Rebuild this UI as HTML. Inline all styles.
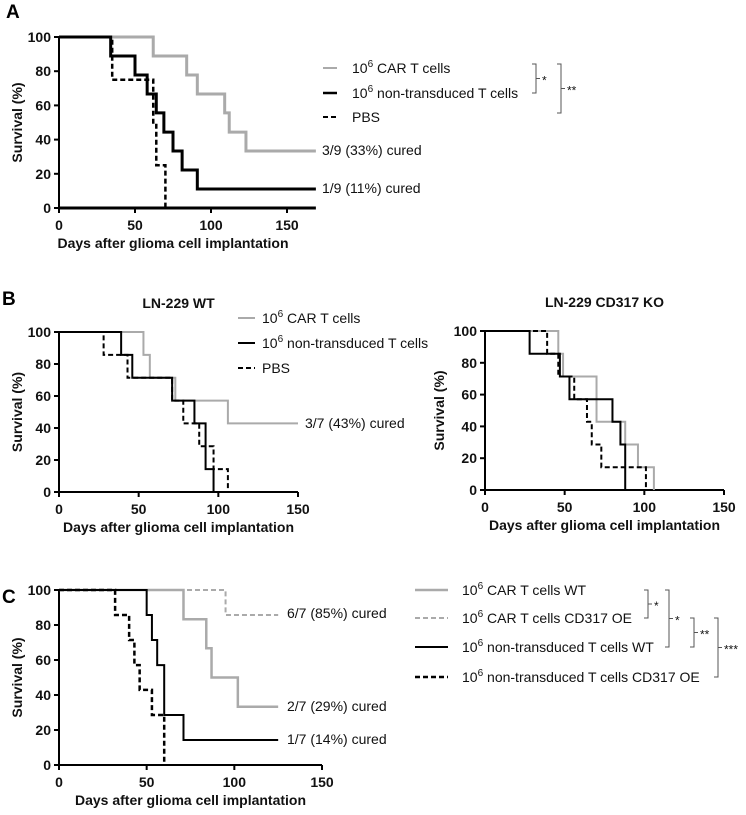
<!DOCTYPE html>
<html><head><meta charset="utf-8"><style>
body{margin:0;background:#fff}
svg{font-family:"Liberation Sans",Arial,sans-serif}
.t{font-size:14px;fill:#111}
.b{font-weight:bold}
</style></head><body>
<svg id="s" width="746" height="810" viewBox="0 0 746 810">
<text x="6" y="18" class="b" font-size="19">A</text>
<text x="2" y="305" class="b" font-size="19">B</text>
<text x="2" y="603" class="b" font-size="19">C</text>
</svg>
<script>
// Panel A data (days, survival %)
const aCarX=[0,62,84,91,109,112,123,169];
const aCarY=[100,88.9,77.8,66.7,55.6,44.4,33.3,33.3];
const aNonX=[0,34,50,58,64,69,75,81,91,169];
const aNonY=[100,88.9,77.8,66.7,55.6,44.4,33.3,22.2,11.1,11.1];
const aPbsX=[0,35,62,64,70];
const aPbsY=[100,75,50,25,0];
// Panel B WT
const bwCarX=[0,53,57,73,106,150];
const bwCarY=[100,85.7,71.4,57.1,42.9,42.9];
const bwNonX=[0,39,46,71,85,92,97];
const bwNonY=[100,85.7,71.4,57.1,42.9,14.3,0];
const bwPbsX=[0,28,43,71,78,88,97,106];
const bwPbsY=[100,85.7,71.4,57.1,42.9,28.6,14.3,0];
// Panel B KO
const bkCarX=[0,46,49,70,88,96,106];
const bkCarY=[100,85.7,71.4,42.9,28.6,14.3,0];
const bkNonX=[0,28,47,53,80,85,88];
const bkNonY=[100,85.7,71.4,57.1,42.9,28.6,0];
const bkPbsX=[0,39,46,56,64,67,73,101];
const bkPbsY=[100,85.7,71.4,57.1,42.9,28.6,14.3,0];
// Panel C
const cCarWtX=[0,71,84,87,102,125];
const cCarWtY=[100,83.3,66.7,50,33.3,33.3];
const cCarOeX=[0,95,125];
const cCarOeY=[100,85.7,85.7];
const cNonWtX=[0,50,53,56,60,71,125];
const cNonWtY=[100,85.7,71.4,57.1,28.6,14.3,14.3];
const cNonOeX=[0,32,40,43,46,53,60];
const cNonOeY=[100,85.7,71.4,57.1,42.9,28.6,0];
const xTicks=[0,50,100,150];
const yTicks=[0,20,40,60,80,100];

const S=document.getElementById('s');
const NS='http://www.w3.org/2000/svg';
function mk(tag,at,txt){const e=document.createElementNS(NS,tag);for(const k in at)e.setAttribute(k,at[k]);if(txt!==undefined)e.textContent=txt;S.appendChild(e);return e;}

function panel(p){
  const sx=d=>p.x0+(d-0)*(p.x150-p.x0)/150;
  const sy=v=>p.y0+(100-v)*(p.y100-p.y0)/100*-1+ (p.y100-p.y0)*0; // placeholder
  const Y=v=>p.y0-(v/100)*(p.y0-p.y100);
  const g=mk('g',{});
  
  
  // axes
  let ax=mk('line',{x1:p.x0,y1:p.y0,x2:sx(p.xmax),y2:p.y0,stroke:'#000','stroke-width':p.aw});
  
  
  let ay=mk('line',{x1:p.x0,y1:p.y0+1,x2:p.x0,y2:p.y100,stroke:'#000','stroke-width':2});
  
  
  xTicks.forEach(t=>{
    mk('line',{x1:sx(t),y1:p.y0,x2:sx(t),y2:p.y0+5,stroke:'#000','stroke-width':2});
    let tx=mk('text',{x:sx(t),y:p.y0+22,'text-anchor':'middle',class:'t b'},t);
    
    
  });
  yTicks.forEach(t=>{
    mk('line',{x1:p.x0-5,y1:Y(t),x2:p.x0,y2:Y(t),stroke:'#000','stroke-width':2});
    let ty=mk('text',{x:p.x0-8,y:Y(t)+5,'text-anchor':'end',class:'t b'},t);
    
    
  });
  let xt=mk('text',{x:(p.x0+sx(150))/2,y:p.y0+40,'text-anchor':'middle',class:'t b'},'Days after glioma cell implantation');
  
  
  let yc=(p.y0+p.y100)/2;
  let yt=mk('text',{x:p.ytx,y:yc,'text-anchor':'middle',class:'t b',transform:`rotate(-90 ${p.ytx} ${yc})`},'Survival (%)');
  
  
  if(p.title){let tt=mk('text',{x:(p.x0+sx(150))/2,y:p.y100-24,'text-anchor':'middle',class:'t b'},p.title);
    
    }
  p.series.forEach(s=>{
    let d=`M${sx(s.x[0])},${Y(s.y[0])}`;
    for(let i=1;i<s.x.length;i++){d+=`H${sx(s.x[i])}V${Y(s.y[i])}`;}
    let a={d:d,fill:'none',stroke:s.c,'stroke-width':s.w};
    if(s.dash)a['stroke-dasharray']='5,3';
    let e=mk('path',a);
    
    
  });
}
const G='#aaa';
panel({name:'panel-a',x0:59,x150:287,xmax:169,y0:208,y100:37,aw:3,ytx:22,series:[
 {name:'line-car-t',x:aCarX,y:aCarY,c:G,w:3},
 {name:'line-non-transduced',x:aNonX,y:aNonY,c:'#000',w:3},
 {name:'line-pbs',x:aPbsX,y:aPbsY,c:'#000',w:2.5,dash:1}]});
panel({name:'panel-b-wt',x0:59,x150:298,xmax:150,y0:492,y100:332,aw:2,ytx:22,title:'LN-229 WT',series:[
 {name:'line-car-t',x:bwCarX,y:bwCarY,c:G,w:2},
 {name:'line-non-transduced',x:bwNonX,y:bwNonY,c:'#000',w:2},
 {name:'line-pbs',x:bwPbsX,y:bwPbsY,c:'#000',w:2,dash:1}]});
panel({name:'panel-b-ko',x0:485,x150:724,xmax:150,y0:490,y100:331,aw:2,ytx:444,title:'LN-229 CD317 KO',series:[
 {name:'line-car-t',x:bkCarX,y:bkCarY,c:G,w:2},
 {name:'line-non-transduced',x:bkNonX,y:bkNonY,c:'#000',w:2},
 {name:'line-pbs',x:bkPbsX,y:bkPbsY,c:'#000',w:2,dash:1}]});
panel({name:'panel-c',x0:59,x150:322,xmax:150,y0:765,y100:590,aw:2,ytx:22,series:[
 {name:'line-car-wt',x:cCarWtX,y:cCarWtY,c:G,w:2.5},
 {name:'line-car-oe',x:cCarOeX,y:cCarOeY,c:G,w:2,dash:1},
 {name:'line-non-wt',x:cNonWtX,y:cNonWtY,c:'#000',w:2},
 {name:'line-non-oe',x:cNonOeX,y:cNonOeY,c:'#000',w:2.5,dash:1}]});

function leg(x1,x2,tx,y,c,w,dash,label,name){
  let a={x1:x1,y1:y,x2:x2,y2:y,stroke:c,'stroke-width':w};if(dash)a['stroke-dasharray']='5,3';
  let l=mk('line',a);
  
  
  let t=mk('text',{x:tx,y:y+5,class:'t'});
  t.innerHTML='10<tspan dy="-6" font-size="10">6</tspan><tspan dy="6"> '+label+'</tspan>';
  if(label==='PBS')t.textContent='PBS';
  
  
}
function lab(x,y,s){let t=mk('text',{x:x,y:y,class:'t'},s);
  
  }
function br(x,y1,y2,star){
  let p=mk('path',{d:`M${x-4},${y1}H${x}V${y2}H${x-4}M${x},${(y1+y2)/2}H${x+4}`,fill:'none',stroke:'#555','stroke-width':1});
  
  
  let t=mk('text',{x:x+6,y:(y1+y2)/2+6,'font-size':'12',fill:'#111'},star);
  
  
}
// legend A
leg(323,337,352,68,G,2,0,'CAR T cells','legend-car-t');
leg(323,337,352,93,'#000',2.5,0,'non-transduced T cells','legend-non-transduced');
leg(323,337,352,117,'#000',2,1,'PBS','legend-pbs');
lab(322,155,'3/9 (33%) cured');lab(322,193,'1/9 (11%) cured');
br(536,64,93,'*');br(561,64,113,'**');
// legend B
leg(238,255,262,318,G,2,0,'CAR T cells','legend-car-t');
leg(238,255,262,343,'#000',2,0,'non-transduced T cells','legend-non-transduced');
leg(238,255,262,368,'#000',2,1,'PBS','legend-pbs');
lab(305,428,'3/7 (43%) cured');
// legend C
leg(415,448,462,590,G,2.5,0,'CAR T cells WT','legend-car-wt');
leg(415,448,462,618,G,2,1,'CAR T cells CD317 OE','legend-car-oe');
leg(415,448,462,647,'#000',2,0,'non-transduced T cells WT','legend-non-wt');
leg(415,448,462,677,'#000',2.5,1,'non-transduced T cells CD317 OE','legend-non-oe');
lab(287,618,'6/7 (85%) cured');lab(287,711,'2/7 (29%) cured');lab(287,744,'1/7 (14%) cured');
br(648,590,618,'*');br(669,590,647,'*');br(694,618,647,'**');br(718,618,677,'***');
</script>
</body></html>
